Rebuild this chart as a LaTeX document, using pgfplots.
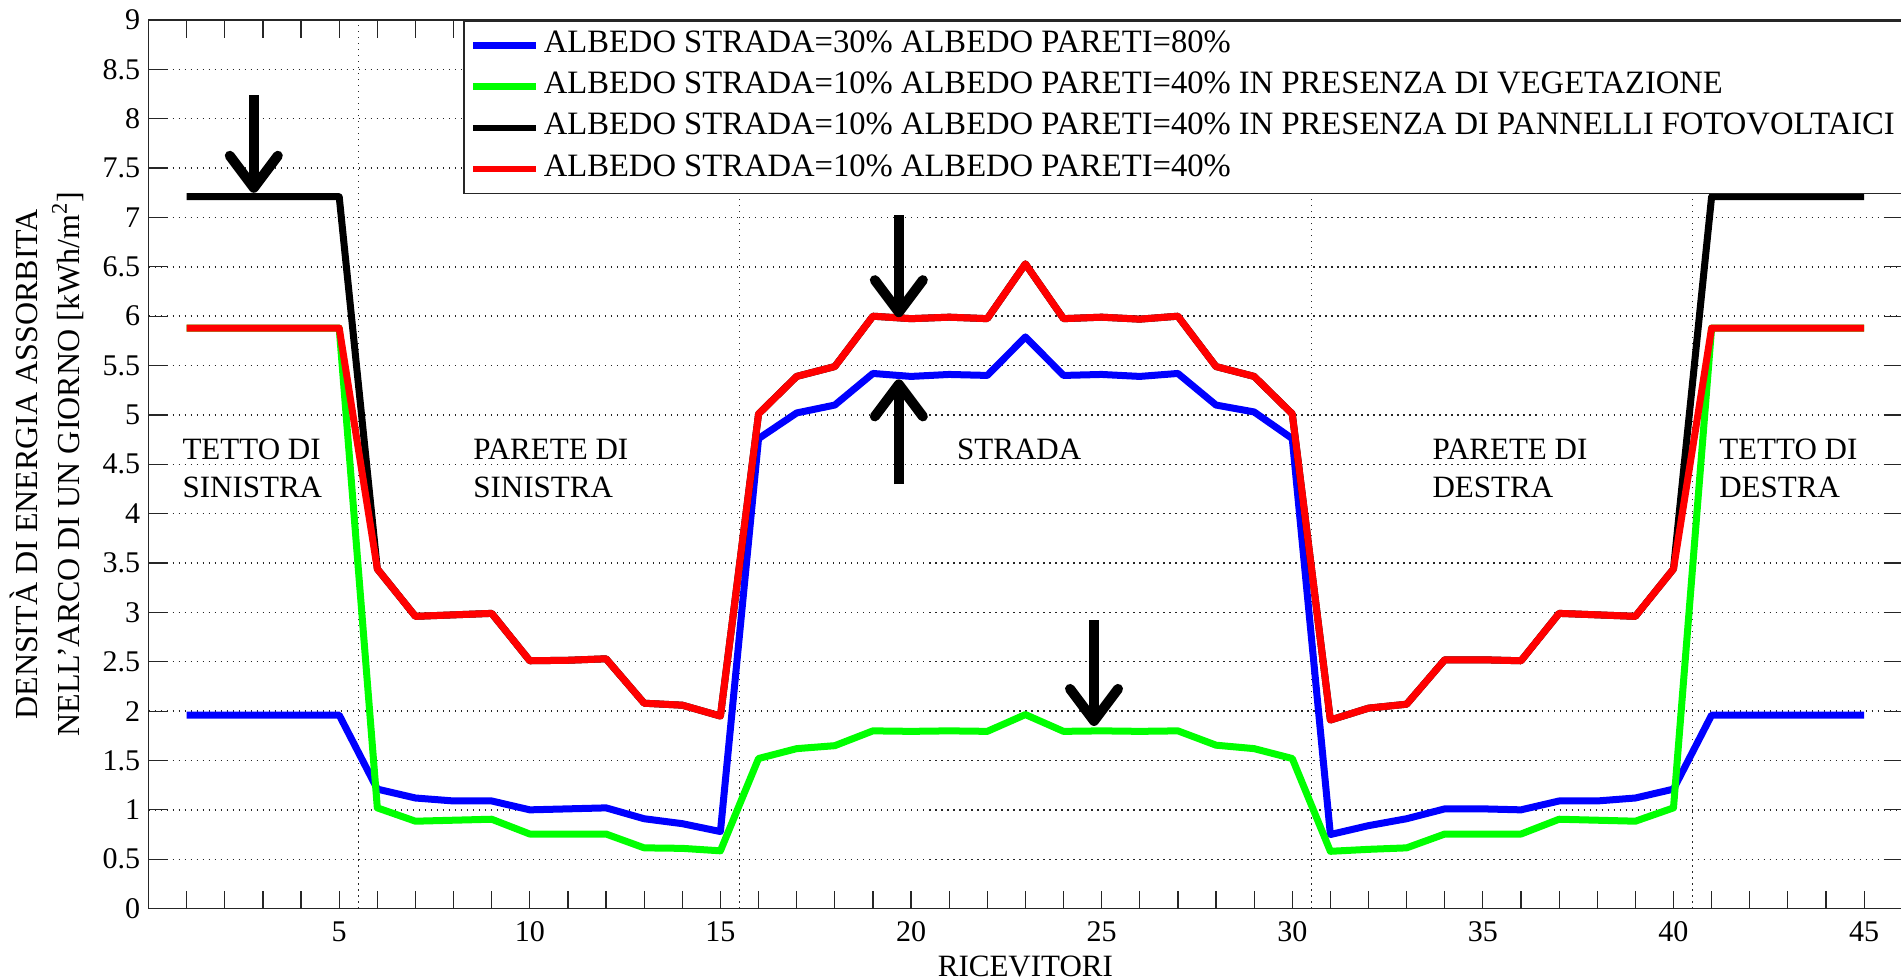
\documentclass[border=0pt]{standalone}
\usepackage{fontspec}
\setmainfont{Liberation Serif}
\usepackage{pgfplots}
\usepackage{pgfplotstable}
\pgfplotsset{compat=1.18}
\usetikzlibrary{arrows.meta}

\pgfplotstableread{
x  blue  green  black  red
1  1.96  5.88   7.21   5.88
2  1.96  5.88   7.21   5.88
3  1.96  5.88   7.21   5.88
4  1.96  5.88   7.21   5.88
5  1.96  5.88   7.21   5.88
6  1.21  1.02   3.44   3.44
7  1.12  0.885  2.96   2.96
8  1.09  0.895  2.975  2.975
9  1.09  0.905  2.99   2.99
10 1.00  0.755  2.51   2.51
11 1.01  0.755  2.515  2.515
12 1.02  0.755  2.53   2.53
13 0.91  0.615  2.08   2.08
14 0.86  0.61   2.06   2.06
15 0.78  0.585  1.95   1.95
16 4.76  1.52   5.01   5.01
17 5.02  1.62   5.39   5.39
18 5.10  1.65   5.49   5.49
19 5.42  1.80   6.00   6.00
20 5.39  1.795  5.975  5.975
21 5.41  1.80   5.99   5.99
22 5.40  1.795  5.975  5.975
23 5.79  1.965  6.53   6.53
24 5.40  1.795  5.975  5.975
25 5.41  1.80   5.99   5.99
26 5.39  1.795  5.97   5.97
27 5.42  1.80   6.00   6.00
28 5.10  1.655  5.49   5.49
29 5.03  1.62   5.39   5.39
30 4.76  1.52   5.01   5.01
31 0.75  0.58   1.91   1.91
32 0.84  0.60   2.03   2.03
33 0.91  0.615  2.07   2.07
34 1.01  0.755  2.52   2.52
35 1.01  0.755  2.52   2.52
36 1.00  0.755  2.51   2.51
37 1.09  0.905  2.99   2.99
38 1.09  0.895  2.975  2.975
39 1.12  0.885  2.96   2.96
40 1.21  1.02   3.44   3.44
41 1.96  5.88   7.21   5.88
42 1.96  5.88   7.21   5.88
43 1.96  5.88   7.21   5.88
44 1.96  5.88   7.21   5.88
45 1.96  5.88   7.21   5.88
}\data

\begin{document}
\begin{tikzpicture}[font=\fontsize{15}{18}\selectfont]
\begin{axis}[
  name=ax,
  scale only axis, width=876.25pt, height=444pt,
  xmin=0, xmax=46, ymin=0, ymax=9,
  xtick={5,10,...,45}, minor xtick={1,...,46},
  ytick={0,0.5,...,9},
  tick align=inside, major tick length=9pt, minor tick length=9pt,
  tick style={line width=0.6pt, color=black!85},
  axis line style={line width=0.75pt, black!85},
  ymajorgrids,
  major grid style={dash pattern=on 0.7pt off 2.3pt, line width=0.7pt, black!85},
  extra x ticks={5.5,15.5,30.5,40.5}, extra x tick labels={,,,},
  extra x tick style={grid=major, major tick length=0pt},
  /pgf/number format/assume math mode=true,
  xticklabel style={anchor=base, yshift=-16.5pt, inner sep=0pt, font=\fontsize{15}{18}\selectfont},
  yticklabel style={anchor=east, xshift=-4pt, inner sep=0pt, font=\fontsize{15}{18}\selectfont},
  xlabel={RICEVITORI},
  every axis x label/.style={at={(rel axis cs:0.5,0)}, anchor=base, yshift=-34pt, inner sep=0pt, font=\fontsize{15.5}{18}\selectfont},
  ylabel={DENSITÀ DI ENERGIA ASSORBITA\\NELL'ARCO DI UN GIORNO [kWh/m\textsuperscript{2}]},
  every axis y label/.style={at={(rel axis cs:-0.058,0.5)}, rotate=90, anchor=center, align=center, inner sep=0pt, font=\fontsize{16}{21}\selectfont},
  legend cell align=left,
  legend style={at={(rel axis cs:0.1795,1)}, anchor=north west, draw=black!85, line width=0.75pt, fill=white,
    font=\fontsize{16.3}{19}\selectfont, inner xsep=3pt, inner ysep=2pt, row sep=0pt,
    nodes={inner xsep=2pt, inner ysep=2.8pt, text height=11pt, text depth=4pt}},
  legend image code/.code={\draw[#1, line width=3.3pt] (0pt,0pt) -- (31.5pt,0pt);},
  every axis plot/.append style={line width=3.5pt, line join=round},
]
\addplot[blue] table[x=x, y=blue] {\data};
\addlegendentry{ALBEDO STRADA=30\% ALBEDO PARETI=80\%}
\addplot[green] table[x=x, y=green] {\data};
\addlegendentry{ALBEDO STRADA=10\% ALBEDO PARETI=40\% IN PRESENZA DI VEGETAZIONE}
\addplot[black] table[x=x, y=black] {\data};
\addlegendentry{ALBEDO STRADA=10\% ALBEDO PARETI=40\% IN PRESENZA DI PANNELLI FOTOVOLTAICI\hspace*{20pt}}
\addplot[red] table[x=x, y=red] {\data};
\addlegendentry{ALBEDO STRADA=10\% ALBEDO PARETI=40\%}

\addplot[forget plot, black, line width=5pt, -{Straight Barb[length=16pt, width=24pt, round]}] coordinates {(2.76,8.24) (2.76,7.25)};
\addplot[forget plot, black, line width=5pt, -{Straight Barb[length=16pt, width=24pt, round]}] coordinates {(19.68,7.02) (19.68,5.99)};
\addplot[forget plot, black, line width=5pt, -{Straight Barb[length=16pt, width=24pt, round]}] coordinates {(19.68,4.30) (19.68,5.36)};
\addplot[forget plot, black, line width=5pt, -{Straight Barb[length=16pt, width=24pt, round]}] coordinates {(24.8,2.92) (24.8,1.85)};

\node[anchor=north west, inner sep=0pt, align=left, font=\fontsize{15.5}{19}\selectfont] at (axis cs:0.88,4.757) {TETTO DI\\SINISTRA};
\node[anchor=north west, inner sep=0pt, align=left, font=\fontsize{15.5}{19}\selectfont] at (axis cs:8.51,4.757) {PARETE DI\\SINISTRA};
\node[anchor=north west, inner sep=0pt, align=left, font=\fontsize{15.5}{19}\selectfont] at (axis cs:21.2,4.757) {STRADA};
\node[anchor=north west, inner sep=0pt, align=left, font=\fontsize{15.5}{19}\selectfont] at (axis cs:33.67,4.757) {PARETE DI\\DESTRA};
\node[anchor=north west, inner sep=0pt, align=left, font=\fontsize{15.5}{19}\selectfont] at (axis cs:41.19,4.757) {TETTO DI\\DESTRA};
\end{axis}
\pgfresetboundingbox
\path ([xshift=-74.25pt,yshift=-35.5pt]ax.south west) rectangle ([xshift=-0.6pt,yshift=10pt]ax.north east);
\end{tikzpicture}
\end{document}
